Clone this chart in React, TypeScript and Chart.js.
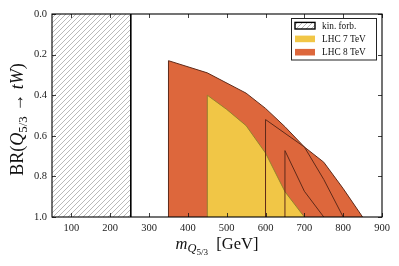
import React, { useEffect, useRef } from "react";
import { Chart, registerables } from "chart.js";
Chart.register(...registerables);

const xTicks = [100, 200, 300, 400, 500, 600, 700, 800, 900];
const yTicks = [0, 0.2, 0.4, 0.6, 0.8, 1.0];
const kinForbX = [50, 253];
const kinForbY = [0, 0];
const kinEdgeX = [253, 253];
const kinEdgeY = [0, 1];
const lhc8X = [350, 350, 450, 550, 600, 650, 700, 750, 800, 850];
const lhc8Y = [1, 0.23, 0.29, 0.39, 0.465, 0.555, 0.655, 0.73, 0.86, 1];
const lhc7X = [450, 450, 500, 550, 600, 650, 700];
const lhc7Y = [1, 0.4, 0.47, 0.55, 0.685, 0.875, 1];
const edgeAX = [600, 600, 700, 750, 800];
const edgeAY = [1, 0.52, 0.655, 0.815, 1];
const edgeBX = [650, 650, 700, 750];
const edgeBY = [1, 0.673, 0.873, 1];
const legendLabels = ["kin. forb.", "LHC 7 TeV", "LHC 8 TeV"];

const ORANGE = "rgb(221,103,60)";
const YELLOW = "rgb(241,198,70)";
const BROWN = "rgb(95,42,25)";
const OLIVE = "rgb(150,130,45)";
const SERIF = "'Liberation Serif', 'DejaVu Serif', serif";

const pts = (xs: number[], ys: number[]) => xs.map((x, i) => ({ x, y: ys[i] }));

function makeHatch(): CanvasPattern | string {
  const c = document.createElement("canvas");
  c.width = 5;
  c.height = 5;
  const g = c.getContext("2d");
  if (!g) return "#ccc";
  g.fillStyle = "#fff";
  g.fillRect(0, 0, 5, 5);
  g.strokeStyle = "rgba(120,120,120,0.75)";
  g.lineWidth = 0.7;
  g.beginPath();
  g.moveTo(-1, 6);
  g.lineTo(6, -1);
  g.moveTo(-1, 1);
  g.lineTo(1, -1);
  g.moveTo(4, 6);
  g.lineTo(6, 4);
  g.stroke();
  const p = g.createPattern(c, "repeat");
  return p || "#ccc";
}

type Run = { t: string; it?: boolean; s?: number; dy?: number };

function runWidth(ctx: CanvasRenderingContext2D, runs: Run[], size: number) {
  let w = 0;
  for (const r of runs) {
    ctx.font = `${r.it ? "italic " : ""}${size * (r.s || 1)}px ${SERIF}`;
    w += ctx.measureText(r.t).width;
  }
  return w;
}

function drawRuns(ctx: CanvasRenderingContext2D, runs: Run[], size: number, x0: number, y0: number) {
  let x = x0;
  ctx.textBaseline = "alphabetic";
  ctx.textAlign = "left";
  for (const r of runs) {
    ctx.font = `${r.it ? "italic " : ""}${size * (r.s || 1)}px ${SERIF}`;
    ctx.fillText(r.t, x, y0 + (r.dy || 0) * size);
    x += ctx.measureText(r.t).width;
  }
}

const yTitle: Run[] = [
  { t: "BR(" },
  { t: "Q", it: true },
  { t: "5/3", s: 0.72, dy: 0.22 },
  { t: " \u2192 " },
  { t: "tW", it: true },
  { t: ")" },
];
const xTitle: Run[] = [
  { t: "m", it: true },
  { t: "Q", it: true, s: 0.75, dy: 0.2 },
  { t: "5/3", s: 0.55, dy: 0.34 },
  { t: "  [GeV]" },
];

const decor = {
  id: "decor",
  afterDatasetsDraw(chart: any) {
    const { ctx, chartArea: a, scales } = chart;
    const x = scales.x;
    const y = scales.y;
    ctx.save();
    ctx.strokeStyle = "#111";
    ctx.lineWidth = 0.8;
    ctx.beginPath();
    for (const v of xTicks) {
      const px = Math.round(x.getPixelForValue(v)) + 0.5;
      ctx.moveTo(px, a.bottom);
      ctx.lineTo(px, a.bottom - 4);
      ctx.moveTo(px, a.top);
      ctx.lineTo(px, a.top + 4);
    }
    for (const v of yTicks) {
      const py = Math.round(y.getPixelForValue(v)) + 0.5;
      ctx.moveTo(a.left, py);
      ctx.lineTo(a.left + 4, py);
      ctx.moveTo(a.right, py);
      ctx.lineTo(a.right - 4, py);
    }
    ctx.stroke();
    ctx.lineWidth = 1.1;
    ctx.strokeStyle = "#000";
    ctx.strokeRect(a.left, a.top, a.right - a.left, a.bottom - a.top);

    // legend
    const hatch = chart.$hatch;
    const lx = 291.5, ly = 18.5, lw = 85, lh = 41.5;
    ctx.fillStyle = "#fff";
    ctx.fillRect(lx, ly, lw, lh);
    ctx.strokeStyle = "#222";
    ctx.lineWidth = 1;
    ctx.strokeRect(lx, ly, lw, lh);
    const rows = [25.7, 38.9, 52.2];
    const fills = [hatch, YELLOW, ORANGE];
    rows.forEach((cy, i) => {
      ctx.fillStyle = fills[i];
      ctx.fillRect(295, cy - 3.3, 20, 6.6);
      if (i === 0) {
        ctx.strokeStyle = "#000";
        ctx.lineWidth = 1.4;
        ctx.strokeRect(295, cy - 3.3, 20, 6.6);
      }
      ctx.fillStyle = "#111";
      ctx.font = `9.3px ${SERIF}`;
      ctx.textBaseline = "middle";
      ctx.textAlign = "left";
      ctx.fillText(legendLabels[i], 322, cy + 0.5);
    });

    // axis titles
    ctx.fillStyle = "#111";
    const xs = 16.5;
    const xw = runWidth(ctx, xTitle, xs);
    drawRuns(ctx, xTitle, xs, (a.left + a.right) / 2 - xw / 2, 249);
    const ys = 18;
    const yw = runWidth(ctx, yTitle, ys);
    ctx.translate(23, 119.5);
    ctx.rotate(-Math.PI / 2);
    drawRuns(ctx, yTitle, ys, -yw / 2, 0);
    ctx.restore();
  },
};

export default function App() {
  const ref = useRef<HTMLCanvasElement | null>(null);
  useEffect(() => {
    if (!ref.current) return;
    const hatch = makeHatch();
    const tickFont = { family: SERIF, size: 10.5 };
    const chart = new Chart(ref.current, {
      type: "scatter",
      data: {
        datasets: [
          { data: pts(edgeBX, edgeBY), showLine: true, fill: false, borderColor: BROWN, borderWidth: 1, pointRadius: 0 },
          { data: pts(edgeAX, edgeAY), showLine: true, fill: false, borderColor: BROWN, borderWidth: 1, pointRadius: 0 },
          { label: legendLabels[1], data: pts(lhc7X, lhc7Y), showLine: true, fill: { value: 1 }, backgroundColor: YELLOW, borderColor: OLIVE, borderWidth: 1, pointRadius: 0 },
          { label: legendLabels[2], data: pts(lhc8X, lhc8Y), showLine: true, fill: { value: 1 }, backgroundColor: ORANGE, borderColor: BROWN, borderWidth: 1, pointRadius: 0 },
          { data: pts(kinEdgeX, kinEdgeY), showLine: true, fill: false, borderColor: "#000", borderWidth: 1.6, pointRadius: 0 },
          { label: legendLabels[0], data: pts(kinForbX, kinForbY), showLine: true, fill: { value: 1 }, backgroundColor: hatch as any, borderWidth: 0, borderColor: "rgba(0,0,0,0)", pointRadius: 0 },
        ],
      },
      options: {
        animation: false,
        responsive: false,
        events: [],
        layout: { padding: { top: 14, right: 17, left: 0, bottom: 0 } },
        plugins: { legend: { display: false }, tooltip: { enabled: false } },
        scales: {
          x: {
            type: "linear",
            min: 50,
            max: 900,
            grid: { display: false, drawTicks: false },
            border: { display: false },
            ticks: { font: tickFont, color: "#222", padding: 5, maxRotation: 0, autoSkip: false },
            afterBuildTicks: (s: any) => { s.ticks = xTicks.map((v) => ({ value: v })); },
            afterFit: (s: any) => { s.height = 49; },
          },
          y: {
            type: "linear",
            min: 0,
            max: 1,
            reverse: true,
            grid: { display: false, drawTicks: false },
            border: { display: false },
            ticks: { font: tickFont, color: "#222", padding: 5, callback: (v: any) => Number(v).toFixed(1) },
            afterBuildTicks: (s: any) => { s.ticks = yTicks.map((v) => ({ value: v })); },
            afterFit: (s: any) => { s.width = 52; },
          },
        },
      },
      plugins: [decor],
    } as any);
    (chart as any).$hatch = hatch;
    chart.draw();
    return () => chart.destroy();
  }, []);
  return (
    <div style={{ position: "fixed", left: 0, top: 0, width: 399, height: 266, background: "#fff" }}>
      <canvas ref={ref} width={399} height={266} style={{ display: "block" }} />
    </div>
  );
}
